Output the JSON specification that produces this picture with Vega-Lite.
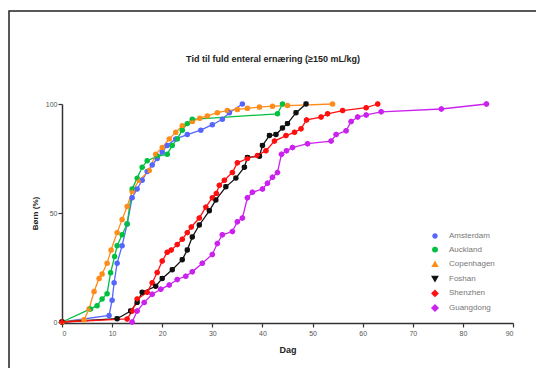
{
  "$schema": "https://vega.github.io/schema/vega-lite/v6.json",
  "autosize": "none",
  "padding": {"left": 9, "top": 11, "right": 0, "bottom": 0},
  "width": 540,
  "height": 370,
  "background": "white",
  "config": {
    "view": {"stroke": "#222", "strokeWidth": 1.5},
    "font": "Liberation Sans"
  },
  "title": {
    "text": "Tid til fuld enteral ernæring (≥150 mL/kg)",
    "fontSize": 9,
    "fontWeight": "bold",
    "font": "Liberation Sans",
    "color": "#222",
    "offset": -53,
    "dx": -6
  },
  "data": {
    "values": [
      {"series": "Amsterdam", "day": 0, "pct": 0},
      {"series": "Amsterdam", "day": 9.4, "pct": 3},
      {"series": "Amsterdam", "day": 10, "pct": 10},
      {"series": "Amsterdam", "day": 10.4, "pct": 18},
      {"series": "Amsterdam", "day": 11, "pct": 27},
      {"series": "Amsterdam", "day": 12, "pct": 35},
      {"series": "Amsterdam", "day": 13, "pct": 45},
      {"series": "Amsterdam", "day": 14, "pct": 57},
      {"series": "Amsterdam", "day": 15, "pct": 61},
      {"series": "Amsterdam", "day": 16, "pct": 65},
      {"series": "Amsterdam", "day": 17, "pct": 69},
      {"series": "Amsterdam", "day": 18, "pct": 72},
      {"series": "Amsterdam", "day": 19, "pct": 75},
      {"series": "Amsterdam", "day": 20, "pct": 78},
      {"series": "Amsterdam", "day": 21, "pct": 81},
      {"series": "Amsterdam", "day": 22.7, "pct": 84},
      {"series": "Amsterdam", "day": 25, "pct": 86},
      {"series": "Amsterdam", "day": 27.7, "pct": 88},
      {"series": "Amsterdam", "day": 30, "pct": 90.5},
      {"series": "Amsterdam", "day": 32, "pct": 93},
      {"series": "Amsterdam", "day": 33.4, "pct": 96},
      {"series": "Amsterdam", "day": 36, "pct": 100},

      {"series": "Auckland", "day": 0, "pct": 0},
      {"series": "Auckland", "day": 5.7, "pct": 6},
      {"series": "Auckland", "day": 7, "pct": 7.5},
      {"series": "Auckland", "day": 8, "pct": 10.6},
      {"series": "Auckland", "day": 9, "pct": 13},
      {"series": "Auckland", "day": 9.7, "pct": 22.6},
      {"series": "Auckland", "day": 10.5, "pct": 30},
      {"series": "Auckland", "day": 11, "pct": 35},
      {"series": "Auckland", "day": 12, "pct": 40},
      {"series": "Auckland", "day": 13, "pct": 45},
      {"series": "Auckland", "day": 14, "pct": 61},
      {"series": "Auckland", "day": 15, "pct": 66},
      {"series": "Auckland", "day": 16, "pct": 71},
      {"series": "Auckland", "day": 17, "pct": 74},
      {"series": "Auckland", "day": 19, "pct": 76},
      {"series": "Auckland", "day": 21, "pct": 77},
      {"series": "Auckland", "day": 22, "pct": 81},
      {"series": "Auckland", "day": 23, "pct": 84},
      {"series": "Auckland", "day": 24, "pct": 88},
      {"series": "Auckland", "day": 25, "pct": 91},
      {"series": "Auckland", "day": 26, "pct": 93},
      {"series": "Auckland", "day": 43, "pct": 95.5},
      {"series": "Auckland", "day": 44, "pct": 100},

      {"series": "Copenhagen", "day": 0, "pct": 0},
      {"series": "Copenhagen", "day": 4.4, "pct": 1},
      {"series": "Copenhagen", "day": 5.4, "pct": 6},
      {"series": "Copenhagen", "day": 6.4, "pct": 14},
      {"series": "Copenhagen", "day": 7.4, "pct": 20},
      {"series": "Copenhagen", "day": 8, "pct": 22},
      {"series": "Copenhagen", "day": 9, "pct": 27},
      {"series": "Copenhagen", "day": 9.8, "pct": 33},
      {"series": "Copenhagen", "day": 11, "pct": 41},
      {"series": "Copenhagen", "day": 12, "pct": 47},
      {"series": "Copenhagen", "day": 13, "pct": 53},
      {"series": "Copenhagen", "day": 14, "pct": 60},
      {"series": "Copenhagen", "day": 15.4, "pct": 65},
      {"series": "Copenhagen", "day": 17.4, "pct": 69.5},
      {"series": "Copenhagen", "day": 18.7, "pct": 77},
      {"series": "Copenhagen", "day": 20, "pct": 80},
      {"series": "Copenhagen", "day": 21.4, "pct": 84},
      {"series": "Copenhagen", "day": 22.7, "pct": 87},
      {"series": "Copenhagen", "day": 24, "pct": 90},
      {"series": "Copenhagen", "day": 26, "pct": 92},
      {"series": "Copenhagen", "day": 27.5, "pct": 93.5},
      {"series": "Copenhagen", "day": 29, "pct": 94.5},
      {"series": "Copenhagen", "day": 31, "pct": 96},
      {"series": "Copenhagen", "day": 33, "pct": 97},
      {"series": "Copenhagen", "day": 35, "pct": 97.5},
      {"series": "Copenhagen", "day": 37, "pct": 98},
      {"series": "Copenhagen", "day": 39.4, "pct": 98.6},
      {"series": "Copenhagen", "day": 42, "pct": 99},
      {"series": "Copenhagen", "day": 45, "pct": 99.3},
      {"series": "Copenhagen", "day": 54, "pct": 100},

      {"series": "Foshan", "day": 0, "pct": 0},
      {"series": "Foshan", "day": 11, "pct": 1.5},
      {"series": "Foshan", "day": 13.7, "pct": 5},
      {"series": "Foshan", "day": 15, "pct": 9},
      {"series": "Foshan", "day": 16, "pct": 13.6},
      {"series": "Foshan", "day": 18.7, "pct": 16.4},
      {"series": "Foshan", "day": 20, "pct": 20},
      {"series": "Foshan", "day": 22, "pct": 24},
      {"series": "Foshan", "day": 24, "pct": 28.6},
      {"series": "Foshan", "day": 25, "pct": 33},
      {"series": "Foshan", "day": 26, "pct": 39},
      {"series": "Foshan", "day": 27.4, "pct": 44.5},
      {"series": "Foshan", "day": 29.4, "pct": 51},
      {"series": "Foshan", "day": 30.7, "pct": 56},
      {"series": "Foshan", "day": 32.7, "pct": 62},
      {"series": "Foshan", "day": 34.7, "pct": 66},
      {"series": "Foshan", "day": 36.4, "pct": 71},
      {"series": "Foshan", "day": 37, "pct": 75.5},
      {"series": "Foshan", "day": 39.4, "pct": 76},
      {"series": "Foshan", "day": 40, "pct": 81},
      {"series": "Foshan", "day": 41.4, "pct": 85.5},
      {"series": "Foshan", "day": 42.7, "pct": 86},
      {"series": "Foshan", "day": 44, "pct": 89},
      {"series": "Foshan", "day": 45, "pct": 91},
      {"series": "Foshan", "day": 46.7, "pct": 96},
      {"series": "Foshan", "day": 48.7, "pct": 100},

      {"series": "Shenzhen", "day": 0, "pct": 0},
      {"series": "Shenzhen", "day": 13, "pct": 1.4},
      {"series": "Shenzhen", "day": 14, "pct": 5},
      {"series": "Shenzhen", "day": 15, "pct": 10.5},
      {"series": "Shenzhen", "day": 17, "pct": 13.6},
      {"series": "Shenzhen", "day": 18, "pct": 18},
      {"series": "Shenzhen", "day": 19, "pct": 22.7},
      {"series": "Shenzhen", "day": 20, "pct": 28},
      {"series": "Shenzhen", "day": 21, "pct": 32},
      {"series": "Shenzhen", "day": 21.8, "pct": 33},
      {"series": "Shenzhen", "day": 23, "pct": 35.5},
      {"series": "Shenzhen", "day": 24, "pct": 38},
      {"series": "Shenzhen", "day": 25, "pct": 41},
      {"series": "Shenzhen", "day": 25.8, "pct": 43.6},
      {"series": "Shenzhen", "day": 27.4, "pct": 47.7},
      {"series": "Shenzhen", "day": 28.7, "pct": 52.7},
      {"series": "Shenzhen", "day": 30, "pct": 57},
      {"series": "Shenzhen", "day": 30.8, "pct": 59},
      {"series": "Shenzhen", "day": 31.4, "pct": 62.7},
      {"series": "Shenzhen", "day": 32.4, "pct": 65},
      {"series": "Shenzhen", "day": 34, "pct": 68.6},
      {"series": "Shenzhen", "day": 35, "pct": 73},
      {"series": "Shenzhen", "day": 37, "pct": 75},
      {"series": "Shenzhen", "day": 39, "pct": 76.4},
      {"series": "Shenzhen", "day": 40.7, "pct": 78.6},
      {"series": "Shenzhen", "day": 42.4, "pct": 83},
      {"series": "Shenzhen", "day": 44.7, "pct": 85.5},
      {"series": "Shenzhen", "day": 46.4, "pct": 87},
      {"series": "Shenzhen", "day": 47.7, "pct": 88.6},
      {"series": "Shenzhen", "day": 48.8, "pct": 92.7},
      {"series": "Shenzhen", "day": 51.7, "pct": 94},
      {"series": "Shenzhen", "day": 53, "pct": 95.5},
      {"series": "Shenzhen", "day": 56, "pct": 97},
      {"series": "Shenzhen", "day": 60.7, "pct": 98.3},
      {"series": "Shenzhen", "day": 63, "pct": 100},

      {"series": "Guangdong", "day": 14, "pct": 0},
      {"series": "Guangdong", "day": 15, "pct": 5},
      {"series": "Guangdong", "day": 16.4, "pct": 9},
      {"series": "Guangdong", "day": 18, "pct": 12.7},
      {"series": "Guangdong", "day": 19.7, "pct": 15},
      {"series": "Guangdong", "day": 21.4, "pct": 17},
      {"series": "Guangdong", "day": 23, "pct": 19.5},
      {"series": "Guangdong", "day": 24.7, "pct": 21},
      {"series": "Guangdong", "day": 26, "pct": 23},
      {"series": "Guangdong", "day": 28, "pct": 27},
      {"series": "Guangdong", "day": 30, "pct": 31},
      {"series": "Guangdong", "day": 31, "pct": 36},
      {"series": "Guangdong", "day": 32, "pct": 40},
      {"series": "Guangdong", "day": 34, "pct": 41.5},
      {"series": "Guangdong", "day": 35, "pct": 46},
      {"series": "Guangdong", "day": 36, "pct": 47.7},
      {"series": "Guangdong", "day": 37, "pct": 57},
      {"series": "Guangdong", "day": 38, "pct": 59.5},
      {"series": "Guangdong", "day": 40, "pct": 61},
      {"series": "Guangdong", "day": 41, "pct": 63.6},
      {"series": "Guangdong", "day": 42, "pct": 66.4},
      {"series": "Guangdong", "day": 43, "pct": 68.6},
      {"series": "Guangdong", "day": 43.8, "pct": 77},
      {"series": "Guangdong", "day": 44.8, "pct": 78.6},
      {"series": "Guangdong", "day": 46, "pct": 80},
      {"series": "Guangdong", "day": 49, "pct": 81.8},
      {"series": "Guangdong", "day": 53.7, "pct": 83},
      {"series": "Guangdong", "day": 54.7, "pct": 86},
      {"series": "Guangdong", "day": 56.7, "pct": 87.7},
      {"series": "Guangdong", "day": 57.7, "pct": 92},
      {"series": "Guangdong", "day": 59, "pct": 94},
      {"series": "Guangdong", "day": 60.7, "pct": 95},
      {"series": "Guangdong", "day": 63.7, "pct": 96.4},
      {"series": "Guangdong", "day": 75.7, "pct": 97.7},
      {"series": "Guangdong", "day": 84.7, "pct": 100}
    ]
  },
  "encoding": {
    "x": {
      "field": "day", "type": "quantitative",
      "scale": {"domain": [0, 90], "range": [53, 504], "nice": false},
      "axis": {
        "title": "Dag", "values": [0, 10, 20, 30, 40, 50, 60, 70, 80, 90],
        "offset": -58, "grid": false,
        "domainColor": "#333", "domainWidth": 1.5, "tickColor": "#333", "tickWidth": 1.2, "tickSize": 4,
        "labelFontSize": 7, "labelColor": "#555", "labelPadding": 2,
        "titleFontSize": 9, "titleFontWeight": "bold", "titleColor": "#222", "titlePadding": 9
      }
    },
    "y": {
      "field": "pct", "type": "quantitative",
      "scale": {"domain": [0, 100], "range": [311, 93], "nice": false},
      "axis": {
        "title": "Børn (%)", "values": [0, 50, 100],
        "offset": -53, "grid": false,
        "domainColor": "#333", "domainWidth": 1.5, "tickColor": "#333", "tickWidth": 1.2, "tickSize": 4,
        "labelFontSize": 7, "labelColor": "#555", "labelPadding": 1,
        "titleFontSize": 8, "titleFontWeight": "bold", "titleColor": "#222", "titlePadding": 6
      }
    },
    "color": {
      "field": "series", "type": "nominal",
      "scale": {
        "domain": ["Amsterdam", "Auckland", "Copenhagen", "Foshan", "Shenzhen", "Guangdong"],
        "range": ["#5566ff", "#00c040", "#ff8c1a", "#111111", "#ff1010", "#cc22ee"]
      },
      "legend": {
        "title": null, "orient": "none", "legendX": 422, "legendY": 221,
        "labelFontSize": 8, "labelColor": "#777", "symbolSize": 22, "rowPadding": 2.6,
        "labelOffset": 10
      }
    },
    "shape": {
      "field": "series", "type": "nominal",
      "scale": {
        "domain": ["Amsterdam", "Auckland", "Copenhagen", "Foshan", "Shenzhen", "Guangdong"],
        "range": ["circle", "circle", "triangle-up", "triangle-down", "diamond", "diamond"]
      },
      "legend": {
        "title": null, "orient": "none", "legendX": 422, "legendY": 221,
        "labelFontSize": 8, "labelColor": "#777", "symbolSize": 22, "rowPadding": 2.6,
        "labelOffset": 10
      }
    }
  },
  "layer": [
    {
      "mark": {"type": "line", "strokeWidth": 1.3, "clip": false},
      "encoding": {"shape": {"value": null}, "order": {"field": "day", "type": "quantitative"}}
    },
    {
      "mark": {"type": "point", "filled": true, "opacity": 1},
      "encoding": {
        "size": {
          "field": "series", "type": "nominal",
          "scale": {
            "domain": ["Amsterdam", "Auckland", "Copenhagen", "Foshan", "Shenzhen", "Guangdong"],
            "range": [15, 36, 15, 18, 16, 18]
          },
          "legend": null
        }
      }
    }
  ]
}
